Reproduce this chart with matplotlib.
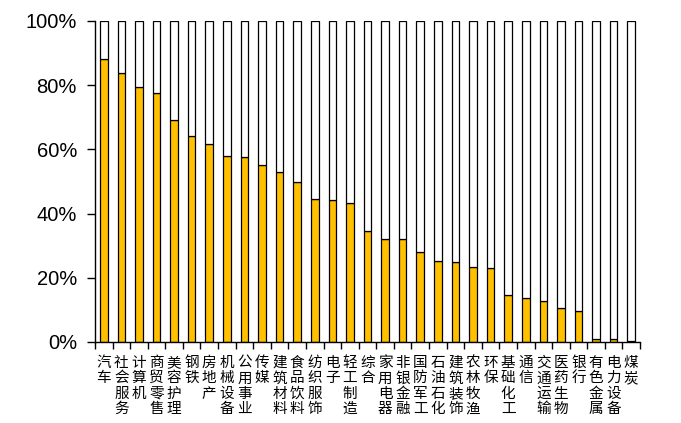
import matplotlib
matplotlib.use('Agg')
import matplotlib.pyplot as plt
import numpy as np

# industries, share of stocks (%) - bottom yellow part
industries = ['汽车', '社会服务', '计算机', '商贸零售', '美容护理', '钢铁', '房地产',
              '机械设备', '公用事业', '传媒', '建筑材料', '食品饮料', '纺织服饰', '电子',
              '轻工制造', '综合', '家用电器', '非银金融', '国防军工', '石油石化',
              '建筑装饰', '农林牧渔', '环保', '基础化工', '通信', '交通运输', '医药生物',
              '银行', '有色金属', '电力设备', '煤炭']
share = [88.2, 83.9, 79.5, 77.6, 69.3, 64.3, 61.8, 57.8, 57.5, 55.0, 52.8, 49.7,
         44.7, 44.1, 43.2, 34.5, 32.0, 32.0, 28.0, 25.2, 24.8, 23.3, 23.0, 14.6,
         13.7, 12.7, 10.6, 9.6, 0.9, 0.9, 0.2]
rest = [100 - v for v in share]

yticks = [0, 20, 40, 60, 80, 100]
ytick_labels = ['0%', '20%', '40%', '60%', '80%', '100%']

fig = plt.figure(figsize=(6.81, 4.23), dpi=100)
ax = fig.add_axes([0.1395, 0.1915, 0.8003, 0.7589])

x = np.arange(len(industries))
w = 0.43
ax.bar(x, share, width=w, color='#FFC000', edgecolor='black', linewidth=0.9)
ax.bar(x, rest, width=w, bottom=share, color='white', edgecolor='black', linewidth=0.9)

ax.set_xlim(-0.5, len(industries) - 0.5)
ax.set_ylim(0, 100)

for s in ['top', 'right']:
    ax.spines[s].set_visible(False)
for s in ['left', 'bottom']:
    ax.spines[s].set_linewidth(1.0)

ax.set_yticks(yticks)
ax.set_yticklabels(ytick_labels, fontsize=14.5, family='Liberation Sans')
ax.tick_params(axis='y', length=6, width=1.0, pad=7)

ax.set_xticks(x)
ax.set_xticklabels(['\n'.join(n) for n in industries],
                   family=['Noto Sans CJK SC', 'DejaVu Sans'],
                   fontsize=10.5, linespacing=1.13, va='top')
ax.tick_params(axis='x', which='major', length=0, pad=10)
ax.set_xticks(np.arange(len(industries) + 1) - 0.5, minor=True)
ax.tick_params(axis='x', which='minor', length=5, width=1.0)

fig.savefig('out.png', dpi=100)
